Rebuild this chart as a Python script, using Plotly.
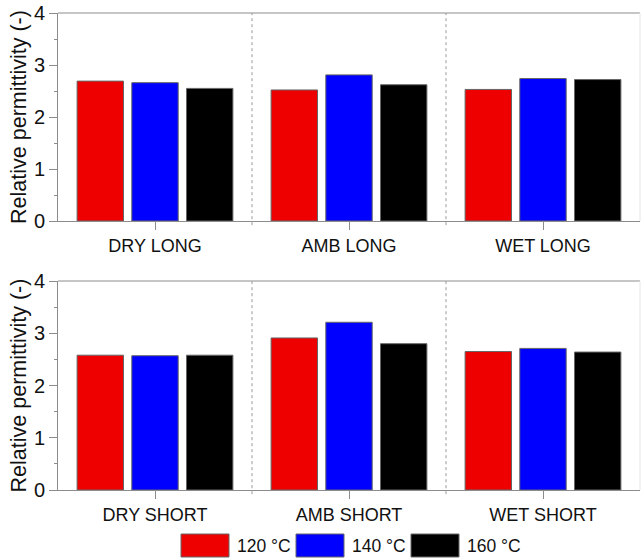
import plotly.graph_objects as go

# ---- data ----
cats_long = ["DRY LONG", "AMB LONG", "WET LONG"]
cats_short = ["DRY SHORT", "AMB SHORT", "WET SHORT"]
series_names = ["120 °C", "140 °C", "160 °C"]
series_colors = ["#ee0000", "#0000ff", "#000000"]
long_120 = [2.69, 2.52, 2.53]
long_140 = [2.66, 2.81, 2.74]
long_160 = [2.55, 2.62, 2.72]
short_120 = [2.58, 2.91, 2.65]
short_140 = [2.57, 3.21, 2.71]
short_160 = [2.58, 2.80, 2.64]
y_ticks = [0, 1, 2, 3, 4]

W, H = 641, 559
FONT = "Liberation Sans, Arial, sans-serif"
AXC = "#8c8c8c"

fig = go.Figure()

long_vals = [long_120, long_140, long_160]
short_vals = [short_120, short_140, short_160]
for name, col, vl, vs in zip(series_names, series_colors, long_vals, short_vals):
    fig.add_trace(go.Bar(x=cats_long, y=vl, name=name, marker=dict(color=col, line=dict(color="#666666", width=1)),
                         xaxis="x", yaxis="y", showlegend=False))
    fig.add_trace(go.Bar(x=cats_short, y=vs, name=name, marker=dict(color=col, line=dict(color="#666666", width=1)),
                         xaxis="x2", yaxis="y2", showlegend=False))

xdom = [58 / W, 640 / W]
ytop = [1 - 221 / H, 1 - 13 / H]
ybot = [1 - 490 / H, 1 - 281 / H]

xcommon = dict(domain=xdom, showline=True, linecolor=AXC, linewidth=1, mirror=False,
               ticks="outside", ticklen=8, tickcolor=AXC, tickfont=dict(family=FONT, size=18, color="#111"),
               showgrid=False, zeroline=False, automargin=False, range=[-0.5, 2.5])
ycommon = dict(range=[0, 4], tickvals=y_ticks, showline=True, linecolor=AXC, linewidth=1,
               ticks="outside", ticklen=8, tickcolor=AXC,
               minor=dict(dtick=0.5, ticks="outside", ticklen=3, tickcolor=AXC),
               tickfont=dict(family=FONT, size=20, color="#111"), showgrid=False, zeroline=False,
               automargin=False,
               title=dict(text="Relative permittivity (-)", font=dict(family=FONT, size=21.5, color="#111"), standoff=1))

fig.update_layout(
    width=W, height=H, margin=dict(l=0, r=0, t=0, b=0),
    paper_bgcolor="white", plot_bgcolor="white",
    barmode="group", bargap=0.154, bargroupgap=0.152,
    xaxis=dict(**xcommon, anchor="y"),
    yaxis=dict(**ycommon, domain=ytop, anchor="x"),
    xaxis2=dict(**xcommon, anchor="y2"),
    yaxis2=dict(**ycommon, domain=ybot, anchor="x2"),
    showlegend=False,
)

shapes = []
for xa, ya in (("x", "y"), ("x2", "y2")):
    shapes.append(dict(type="line", xref=xa + " domain", yref=ya + " domain", x0=0, x1=1, y0=1, y1=1,
                       line=dict(color=AXC, width=1)))
    shapes.append(dict(type="line", xref=xa + " domain", yref=ya + " domain", x0=1, x1=1, y0=0, y1=1,
                       line=dict(color="#e6e6e6", width=1)))
    for xb in (0.5, 1.5):
        shapes.append(dict(type="line", xref=xa, yref=ya + " domain", x0=xb, x1=xb, y0=-0.02, y1=1,
                           line=dict(color="#9a9a9a", width=1, dash="dot")))

annotations = []
leg_x = [181, 296, 411]
for i, (name, col) in enumerate(zip(series_names, series_colors)):
    x0 = leg_x[i]
    shapes.append(dict(type="rect", xref="paper", yref="paper", x0=x0 / W, x1=(x0 + 48) / W,
                       y0=1 - 557 / H, y1=1 - 534 / H, fillcolor=col, line=dict(color="#666666", width=1)))
    annotations.append(dict(xref="paper", yref="paper", x=(x0 + 54) / W, y=1 - 546 / H, xanchor="left",
                            yanchor="middle", text=name, showarrow=False,
                            font=dict(family=FONT, size=17.5, color="#111")))

fig.update_layout(shapes=shapes, annotations=annotations)
fig.write_html("out.html")
